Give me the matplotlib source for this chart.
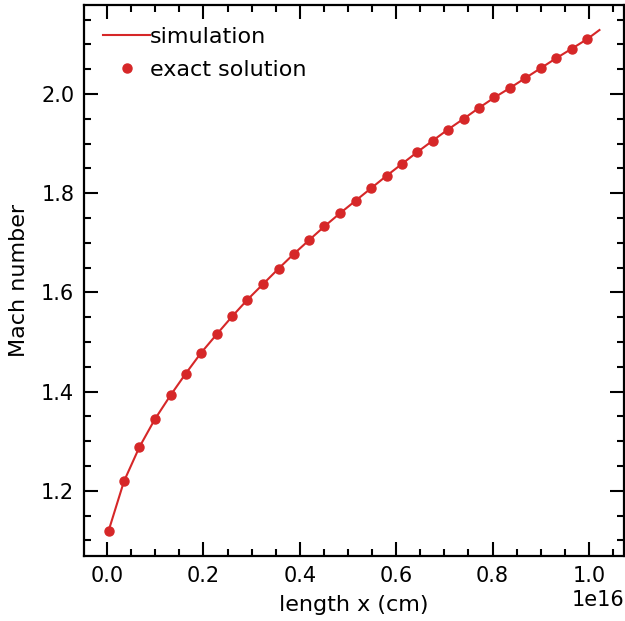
import matplotlib
matplotlib.use("Agg")
import matplotlib.pyplot as plt
from matplotlib.ticker import MultipleLocator

# exact solution points (x in units of 1e16 cm)
x_exact = [0.003, 0.035, 0.067, 0.099, 0.132, 0.163, 0.195, 0.228, 0.260, 0.291,
           0.324, 0.356, 0.387, 0.420, 0.451, 0.484, 0.516, 0.548, 0.580, 0.612,
           0.644, 0.676, 0.707, 0.740, 0.772, 0.804, 0.836, 0.868, 0.900, 0.932,
           0.964, 0.997]
mach_exact = [1.119, 1.219, 1.288, 1.344, 1.393, 1.436, 1.478, 1.516, 1.552, 1.585,
              1.617, 1.648, 1.677, 1.706, 1.733, 1.760, 1.785, 1.810, 1.835, 1.859,
              1.883, 1.906, 1.928, 1.950, 1.972, 1.993, 2.012, 2.032, 2.052, 2.072,
              2.091, 2.111]

# simulation curve
x_sim = x_exact + [1.022]
mach_sim = mach_exact + [2.129]

scale = 1e16
color = "#d62728"

fig = plt.figure(figsize=(6.25, 6.21), dpi=100)
ax = fig.add_axes([0.1344, 0.1047, 0.864, 0.8873])

ax.plot([v * scale for v in x_sim], mach_sim, color=color, lw=1.5, label="simulation")
ax.plot([v * scale for v in x_exact], mach_exact, 'o', color=color, ms=6.5,
        label="exact solution")

ax.set_xlabel("length x (cm)", fontsize=16, labelpad=7)
ax.set_ylabel("Mach number", fontsize=16, labelpad=9)

ax.xaxis.set_major_locator(MultipleLocator(0.2e16))
ax.xaxis.set_minor_locator(MultipleLocator(0.05e16))
ax.yaxis.set_major_locator(MultipleLocator(0.2))
ax.yaxis.set_minor_locator(MultipleLocator(0.05))

ax.tick_params(which="both", direction="in", top=True, right=True, labelsize=15)
ax.tick_params(which="major", length=10, width=1.5, pad=7)
ax.tick_params(which="minor", length=5, width=1.5)
for s in ax.spines.values():
    s.set_linewidth(1.6)
ax.xaxis.get_offset_text().set_fontsize(15)

ax.legend(loc="upper left", bbox_to_anchor=(-0.0055, 1.0), frameon=False,
          fontsize=16, numpoints=1, handlelength=2.1, handletextpad=0.0,
          borderaxespad=0.6, labelspacing=0.58)

fig.savefig("out.png", dpi=100)
